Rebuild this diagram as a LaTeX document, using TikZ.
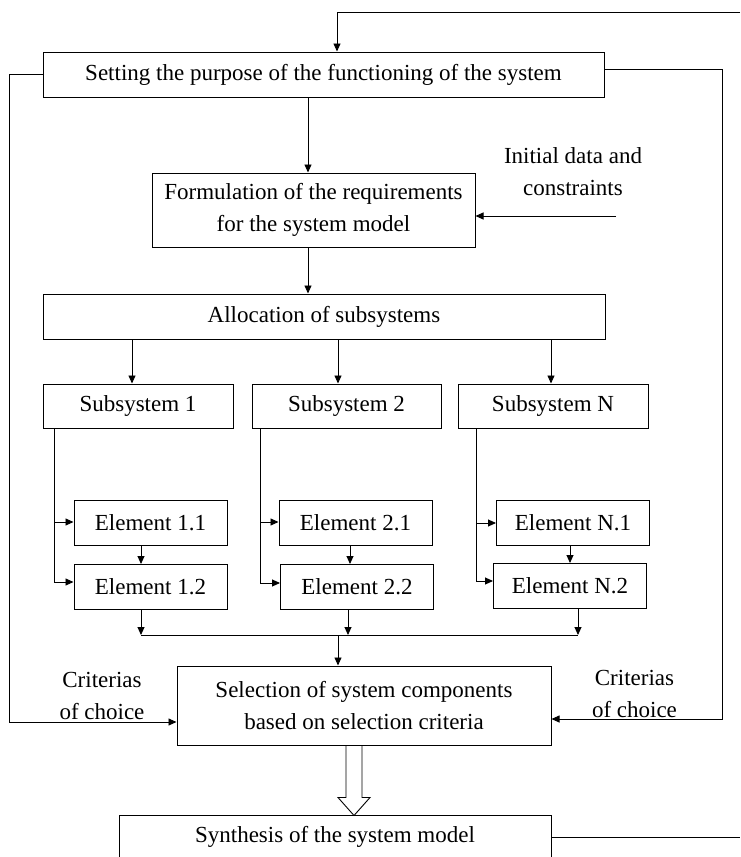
\documentclass[tikz,border=0pt]{standalone}
\usepackage{fontspec}
\setmainfont{Liberation Serif}
\usetikzlibrary{arrows.meta,positioning}

\begin{document}
\begin{tikzpicture}[
    x=1pt, y=-1pt,
    font=\fontsize{23}{32}\selectfont,
    line width=0.9pt,
    box/.style={draw, line width=1pt, inner sep=0pt, align=center, minimum height=45pt},
    elbox/.style={box, minimum width=153pt},
    note/.style={align=center, inner sep=0pt},
    arr/.style={-{Triangle[length=8pt,width=7pt]}}
]
    \useasboundingbox (0,0) rectangle (740,857);
    \clip (0,0) rectangle (740,857);

    \node[box, minimum width=561pt] (purpose) at (323.5,74.5) {Setting the purpose of the functioning of the system};
    \node[box, minimum width=323pt, minimum height=74pt] (formul) at (313.5,210) {Formulation of the requirements\\for the system model};
    \node[note] (indata) at (573,172) {Initial data and\\constraints};
    \node[box, minimum width=562pt] (alloc) at (324,316.5) {Allocation of subsystems};

    \node[box, minimum width=190pt, minimum height=44pt] (sub1) at (138,406) {Subsystem 1};
    \node[box, minimum width=189pt, minimum height=44pt] (sub2) at (346.5,406) {Subsystem 2};
    \node[box, minimum width=190pt, minimum height=44pt] (subN) at (553,406) {Subsystem N};

    \node[elbox] (el11) at (150.5,523) {Element 1.1};
    \node[elbox] (el12) at (150.5,587) {Element 1.2};
    \node[elbox] (el21) at (355.5,523) {Element 2.1};
    \node[elbox] (el22) at (357,587) {Element 2.2};
    \node[elbox] (elN1) at (573,523) {Element N.1};
    \node[elbox] (elN2) at (570,586) {Element N.2};

    \node[box, minimum width=374pt, minimum height=79pt] (select) at (364,705.5) {Selection of system components\\based on selection criteria};
    \node[note] (critL) at (102,695.5) {Criterias\\of choice};
    \node[note] (critR) at (634.5,694) {Criterias\\of choice};
    \node[box, minimum width=432pt, minimum height=44pt] (synth) at (335,837) {Synthesis of the system model};

    \coordinate (topin) at (740,12);
    \coordinate (dataout) at (616,216);
    \coordinate (spine) at (308,0);
    \coordinate (bus) at (338,635);
    \coordinate (synthout) at (740,837);

    % feedback and criteria lines
    \draw[arr] (topin) -| ([xshift=13.5pt]purpose.north);
    \draw[arr] (purpose.west) -- ++(-33.5,0) |- ([yshift=-16.5pt]select.west);
    \draw[arr] ([yshift=5.5pt]purpose.east) -- ++(118,0) |- ([yshift=-13.5pt]select.east);
    \draw (synth.east) -- (synthout);

    % main column
    \draw[arr] (purpose.south -| spine) -- (formul.north -| spine);
    \draw[arr] (dataout) -- (formul.east |- dataout);
    \draw[arr] (formul.south -| spine) -- (alloc.north -| spine);
    \draw[arr] ([xshift=-6pt]sub1.north |- alloc.south) -- ([xshift=-6pt]sub1.north);
    \draw[arr] ([xshift=-8.5pt]sub2.north |- alloc.south) -- ([xshift=-8.5pt]sub2.north);
    \draw[arr] ([xshift=-2pt]subN.north |- alloc.south) -- ([xshift=-2pt]subN.north);

    % subsystems to elements
    \draw[arr] ([xshift=-84pt]sub1.south) |- ([yshift=1pt]el11.west);
    \draw[arr] ([xshift=-84pt]sub1.south) |- ([yshift=5pt]el12.west);
    \draw[arr] ([xshift=-86.5pt]sub2.south) |- ([yshift=1pt]el21.west);
    \draw[arr] ([xshift=-86.5pt]sub2.south) |- ([yshift=4pt]el22.west);
    \draw[arr] ([xshift=-77pt]subN.south) |- (elN1.west);
    \draw[arr] ([xshift=-77pt]subN.south) |- ([yshift=5pt]elN2.west);
    \draw[arr] ([xshift=-9.5pt]el11.south) -- ([xshift=-9.5pt]el11.south |- el12.north);
    \draw[arr] ([xshift=-5.5pt]el21.south) -- ([xshift=-5.5pt]el21.south |- el22.north);
    \draw[arr] ([xshift=-3pt]elN1.south) -- ([xshift=-3pt]elN1.south |- elN2.north);

    % collecting bus
    \draw[arr] ([xshift=-9.5pt]el12.south) -- ([xshift=-9.5pt]el12.south |- bus);
    \draw[arr] ([xshift=-9pt]el22.south) -- ([xshift=-9pt]el22.south |- bus);
    \draw[arr] ([xshift=8pt]elN2.south) -- ([xshift=8pt]elN2.south |- bus);
    \draw ([xshift=-9.5pt]el12.south |- bus) -- ([xshift=8pt]elN2.south |- bus);
    \draw[arr] (bus) -- (bus |- select.north);

    % hollow arrow to synthesis
    \draw[line join=miter] ([xshift=-18pt]select.south) -- ++(0,52) -- ++(-8,0) -- ++(16,18)
        -- ++(16,-18) -- ++(-8,0) -- ++(0,-52);
\end{tikzpicture}
\end{document}
